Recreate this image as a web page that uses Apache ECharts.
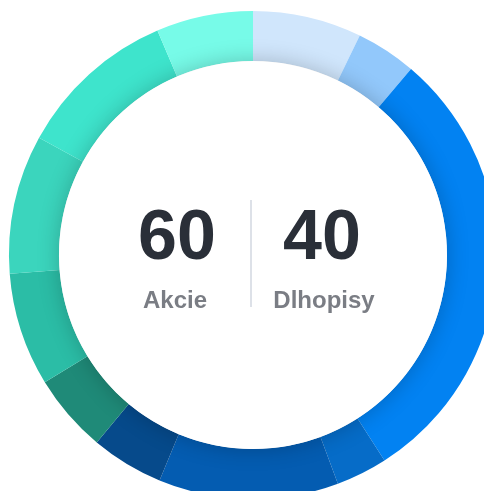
<!DOCTYPE html>
<html>
<head>
<meta charset="utf-8">
<script src="https://cdn.jsdelivr.net/npm/echarts@6/dist/echarts.min.js"></script>
<style>
  html, body { margin: 0; padding: 0; background: #fff; }
  #chart { width: 484px; height: 491px; }
</style>
</head>
<body>
<div id="chart"></div>
<script>
// podiely segmentov v kruhu (v %), v smere hodinových ručičiek od 12:00
const segmentNames = ['D1', 'D2', 'D3', 'D4', 'D5', 'D6', 'A1', 'A2', 'A3', 'A4', 'A5']
const segmentValues = [7.2, 4.0, 29.7, 3.4, 11.9, 4.8, 5.2, 7.5, 9.2, 10.6, 6.4]
const segmentColors = ['#d0e6fc', '#92c8fb', '#0282f2', '#066cc8', '#045cb1', '#064a8b',
  '#1f8a78', '#2bbda6', '#3bd5bd', '#3ee4cc', '#77fbe8']

const totals = [60, 40]
const totalLabels = ['Akcie', 'Dlhopisy']

const chart = echarts.init(document.getElementById('chart'))
const cx = 253, cy = 255

chart.setOption({
  animation: false,
  series: [
    {
      type: 'pie',
      center: [cx, cy],
      radius: [194, 244],
      startAngle: 90,
      clockwise: true,
      silent: true,
      label: { show: false },
      labelLine: { show: false },
      data: segmentValues.map((v, i) => ({
        name: segmentNames[i], value: v, itemStyle: { color: segmentColors[i] },
      })),
    },
    {
      // biely stred s tieňom = jemné tieňovanie vnútornej hrany
      type: 'pie',
      center: [cx, cy],
      radius: [0, 194],
      silent: true,
      z: 3,
      label: { show: false },
      labelLine: { show: false },
      itemStyle: { color: '#fff', shadowBlur: 22, shadowColor: 'rgba(0,0,0,0.22)' },
      data: [{ value: 1 }],
    },
  ],
  graphic: [
    { type: 'text', z: 10, x: 177, y: 240,
      style: { text: String(totals[0]), fill: '#2a2f38', font: 'bold 70px "Liberation Sans", Arial, sans-serif',
        align: 'center', verticalAlign: 'middle' } },
    { type: 'text', z: 10, x: 322, y: 240,
      style: { text: String(totals[1]), fill: '#2a2f38', font: 'bold 70px "Liberation Sans", Arial, sans-serif',
        align: 'center', verticalAlign: 'middle' } },
    { type: 'text', z: 10, x: 175, y: 301,
      style: { text: totalLabels[0], fill: '#7a7d84', font: 'bold 24px "Liberation Sans", Arial, sans-serif',
        align: 'center', verticalAlign: 'middle' } },
    { type: 'text', z: 10, x: 324, y: 301,
      style: { text: totalLabels[1], fill: '#7a7d84', font: 'bold 24px "Liberation Sans", Arial, sans-serif',
        align: 'center', verticalAlign: 'middle' } },
    { type: 'rect', z: 10, shape: { x: 250, y: 200, width: 2, height: 107 },
      style: { fill: '#dde1e8' } },
  ],
})
</script>
</body>
</html>
